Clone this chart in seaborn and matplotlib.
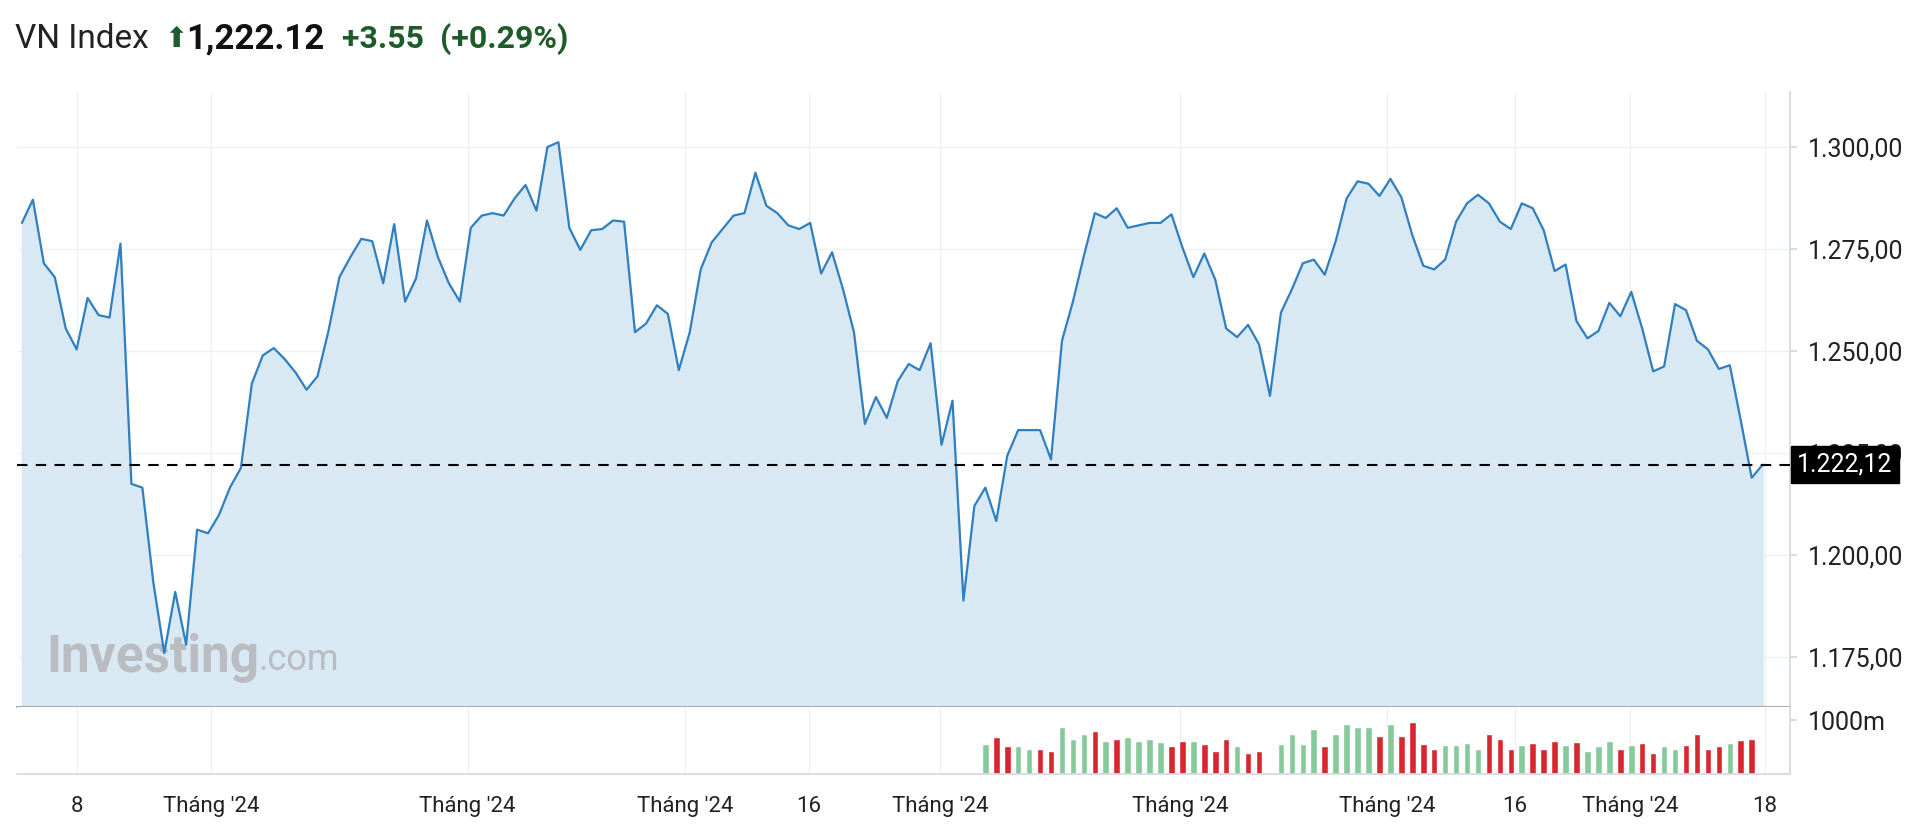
import numpy as np
import pandas as pd
import matplotlib
matplotlib.use("Agg")
import matplotlib.pyplot as plt
import matplotlib.ticker as mticker
import seaborn as sns

# VN Index closes
price = [1281.4, 1287.1, 1271.5, 1268.1, 1255.5, 1250.4, 1263.0, 1258.8, 1258.2, 1276.3,
         1217.4, 1216.5, 1193.3, 1175.9, 1190.9, 1178.0, 1206.2, 1205.3, 1209.8, 1216.5,
         1221.3, 1242.0, 1248.9, 1250.7, 1248.0, 1244.7, 1240.5, 1243.8, 1254.9, 1268.1,
         1273.0, 1277.5, 1276.9, 1266.6, 1281.1, 1262.1, 1267.8, 1282.0, 1273.0, 1266.6,
         1262.1, 1280.2, 1283.2, 1283.8, 1283.2, 1287.4, 1290.7, 1284.4, 1300.0, 1301.2,
         1280.2, 1274.8, 1279.6, 1279.9, 1282.0, 1281.7, 1254.6, 1256.7, 1261.2, 1259.1,
         1245.3, 1254.6, 1270.0, 1276.6, 1279.9, 1283.2, 1283.8, 1293.7, 1285.6, 1283.8,
         1280.8, 1279.9, 1281.4, 1269.0, 1274.2, 1265.1, 1254.6, 1232.1, 1238.7, 1233.6,
         1242.6, 1246.8, 1245.3, 1251.9, 1227.0, 1237.8, 1188.8, 1212.0, 1216.5, 1208.3,
         1224.3, 1230.6, 1230.6, 1230.6, 1223.4, 1252.5, 1262.1, 1273.3, 1283.8, 1282.6,
         1285.0, 1280.2, 1280.8, 1281.4, 1281.4, 1283.5, 1275.4, 1268.1, 1273.9, 1267.5,
         1255.5, 1253.4, 1256.4, 1251.6, 1239.0, 1259.4, 1265.1, 1271.5, 1272.4, 1268.7,
         1276.9, 1287.4, 1291.6, 1291.0, 1288.0, 1292.2, 1287.7, 1278.4, 1270.9, 1270.0,
         1272.4, 1281.7, 1286.2, 1288.3, 1286.2, 1281.7, 1279.9, 1286.2, 1285.0, 1279.6,
         1269.6, 1271.2, 1257.3, 1253.1, 1254.9, 1261.8, 1258.5, 1264.5, 1255.5, 1245.0,
         1246.2, 1261.5, 1260.0, 1252.5, 1250.4, 1245.6, 1246.5, 1233.0, 1218.9, 1222.12]

# volume (millions) for the last sessions, and up/down flag
vol_start = 88
volume = [565, 696, 515, 515, 471, 471, 435, 877, 653, 747, 798, 616, 653, 696, 616, 653,
          602, 515, 616, 616, 565, 435, 653, 515, 384, 435, 0, 565, 747, 565, 834, 515,
          747, 928, 884, 884, 703, 928, 703, 979, 565, 471, 544, 544, 587, 471, 747, 653,
          471, 544, 587, 471, 616, 544, 602, 428, 522, 616, 471, 544, 580, 385, 515, 471,
          537, 740, 464, 529, 573, 631, 660]
vol_up = "grrggrrgggrgrggggrrgrrrgr" "rgggggrggggrgrrrrggggrrrgrrrgrgggrgrrggrrrrgrrr"

xtick_pos = [5.0, 17.3, 40.7, 60.6, 71.9, 83.9, 105.8, 124.7, 136.4, 146.9, 159.2]
xtick_lab = ["8", "Tháng '24", "Tháng '24", "Tháng '24", "16", "Tháng '24",
             "Tháng '24", "Tháng '24", "16", "Tháng '24", "18"]
yticks = [1175, 1200, 1225, 1250, 1275, 1300]
last = 1222.12

sns.set_theme(style="white")
plt.rcParams['font.family'] = ['Roboto', 'DejaVu Sans']

W, H = 1920, 831
fig = plt.figure(figsize=(W / 100, H / 100), dpi=100)

def px_axes(l, t, r, b):
    return fig.add_axes([l / W, 1 - b / H, (r - l) / W, (b - t) / H])

def vn_fmt(v):
    return f"{v:,.2f}".replace(",", "X").replace(".", ",").replace("X", ".")

ax = px_axes(17, 92, 1790, 707)
axv = px_axes(17, 707, 1790, 774)

df = pd.DataFrame({"i": np.arange(len(price)), "price": price})
ax.fill_between(df.i, df.price, 1100, color="#d9e9f3", zorder=1)
sns.lineplot(data=df, x="i", y="price", ax=ax, color="#2f7fc1", lw=1.6, zorder=3)
ax.axhline(last, color="black", ls=(0, (5, 4)), lw=1.5, zorder=4)

xmin, xmax = -0.45, 161.5
ylo, yhi = 1162.7, 1313.5
ax.set_xlim(xmin, xmax)
ax.set_ylim(ylo, yhi)
ax.set_xlabel("")
ax.set_ylabel("")
ax.yaxis.tick_right()
ax.set_yticks(yticks)
ax.yaxis.set_major_formatter(mticker.FuncFormatter(lambda v, p: vn_fmt(v)))
ax.tick_params(axis="y", labelsize=18, colors="#222222", length=5, color="#cfd6de", pad=8)
ax.set_xticks(xtick_pos)
ax.tick_params(axis="x", labelbottom=False, length=0)
ax.grid(True, color="#eef1f4", lw=1)
for s in ["top", "left"]:
    ax.spines[s].set_visible(False)
ax.spines["right"].set_color("#d3dae2")
ax.spines["bottom"].set_color("#a9adb2")
ax.spines["bottom"].set_linewidth(1.5)

ax.text(1.004, (last - ylo) / (yhi - ylo), vn_fmt(last),
        transform=ax.transAxes, ha="left", va="center", fontsize=18, color="white", zorder=10,
        bbox=dict(boxstyle="square,pad=0.25", fc="black", ec="black"), clip_on=False)

ax.text(0.0165, 0.08, "Investing", transform=ax.transAxes, fontsize=37, fontweight="bold",
        color="#b9bcc0", va="center", zorder=2)
ax.text(0.136, 0.076, ".com", transform=ax.transAxes, fontsize=26, color="#b9bcc0",
        va="center", zorder=2)

# volume panel
vx = np.arange(vol_start, vol_start + len(volume))
vcol = ["#86c99a" if c == "g" else "#d8282f" for c in vol_up]
axv.bar(vx, volume, width=0.6, color=vcol)
axv.set_xlim(xmin, xmax)
axv.set_ylim(0, 1250)
axv.yaxis.tick_right()
axv.set_yticks([1000])
axv.set_yticklabels(["1000m"])
axv.tick_params(axis="y", labelsize=18, colors="#222222", length=5, color="#cfd6de", pad=8)
axv.set_xticks(xtick_pos)
axv.set_xticklabels(xtick_lab)
axv.tick_params(axis="x", labelsize=16, colors="#222222", length=6, color="#cfd6de", pad=10)
axv.grid(True, axis="x", color="#eef1f4", lw=1)
for s in ["top", "left"]:
    axv.spines[s].set_visible(False)
axv.spines["right"].set_color("#d3dae2")
axv.spines["bottom"].set_color("#d3dae2")

# header
ty = 1 - 39 / H
fig.text(15 / W, ty, "VN Index", fontsize=24, color="#222222", va="center")
fig.text(164 / W, ty, "⬆", fontsize=20, color="#1e5b2a", va="center", family="DejaVu Sans")
fig.text(186 / W, ty, "1,222.12", fontsize=25, fontweight="bold", color="#111111", va="center")
fig.text(342 / W, ty, "+3.55  (+0.29%)", fontsize=23, fontweight="bold", color="#1e5b2a", va="center")

fig.savefig("out.png", dpi=100, facecolor="white")
